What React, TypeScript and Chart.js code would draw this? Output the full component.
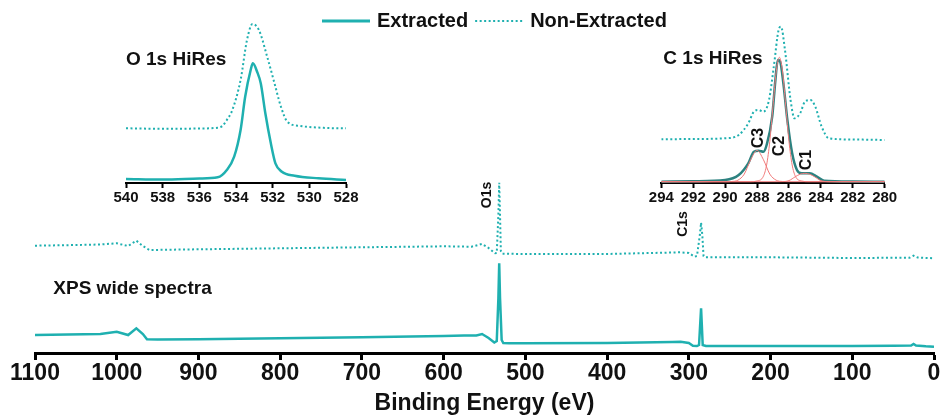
import React, { useEffect, useRef } from "react";
import { Chart, registerables } from "chart.js";

Chart.register(...registerables);

const FONT = "'Liberation Sans', Arial, Helvetica, sans-serif";
const TEAL = "#1fb0b0";
const DARK_TEAL = "#2d8280";
const PINK = "#f07a7a";
const INK = "#111111";

// ---------- Wide scan (Binding energy, eV / intensity, a.u.) ----------
const wideTicks = [1100, 1000, 900, 800, 700, 600, 500, 400, 300, 200, 100, 0];

const extractedEnergy = [1100, 1060, 1020, 1000, 986, 976, 968, 963, 950, 900, 800, 700, 600, 575, 560, 553, 545, 538, 535, 533, 532, 531, 529, 527, 520, 500, 400, 320, 310, 300, 295, 290, 287.5, 285, 283, 281, 279, 270, 200, 100, 50, 28, 25, 22, 10, 0];
const extractedWide = [18, 18.5, 19, 21.3, 18, 24.7, 19, 13.7, 13.5, 13.7, 14.7, 15.7, 17, 17.5, 17.5, 19, 15, 10.5, 12, 55, 89.7, 55, 13, 10, 9.7, 9.7, 10, 11, 11.3, 10, 7.3, 7, 8, 44.7, 8, 7.5, 7, 7, 7, 7, 7.3, 7.5, 9, 7.5, 6.7, 6.3];

const nonExtractedEnergy = [1100, 1050, 1020, 1000, 986, 976, 968, 960, 900, 800, 700, 600, 566, 553, 545, 537, 535, 533, 532, 531, 530, 528, 500, 400, 310, 300, 293, 290, 286.5, 285, 283.5, 282, 280, 200, 100, 30, 25, 20, 0];
const nonExtractedWide = [107.3, 108, 108.5, 109.7, 107, 112.3, 107, 103, 103.7, 104.7, 105.7, 106.7, 106.3, 109, 105, 99.7, 100, 138, 170.3, 138, 102, 99.3, 99, 99, 100.7, 100, 96.3, 97, 118, 130.3, 118, 97, 95.7, 95.7, 95, 95.3, 97.3, 95.5, 94.7];

// ---------- O 1s high resolution ----------
const o1sExtractedEnergy = [540, 538, 536, 535, 534.5, 534.1, 533.75, 533.5, 533.2, 533.08, 532.85, 532.65, 532.4, 532.1, 531.85, 531.5, 530.8, 529.5, 528];
const o1sExtracted = [4, 3.5, 4.5, 5.7, 13, 26.3, 53, 86.3, 113, 119.7, 111.3, 99.7, 69.7, 39.7, 19.7, 11.3, 7.3, 4.7, 3];
const o1sNonExtractedEnergy = [540, 538, 536, 535, 534.75, 534.5, 534.2, 533.75, 533.4, 533.1, 532.75, 532.3, 531.9, 531.55, 531.2, 530.5, 529, 528];
const o1sNonExtracted = [54.7, 54.2, 54.5, 55.3, 57, 63, 73, 103, 143, 159, 153, 126.3, 99.7, 76.3, 61.3, 57, 55, 54.7];

// ---------- C 1s high resolution ----------
const c1sExtractedEnergy = [294, 292, 290, 289.15, 288.55, 288.2, 287.9, 287.6, 287.4, 287.05, 286.85, 286.7, 286.55, 286.35, 286.1, 285.8, 285.5, 285.2, 284.7, 284.25, 283.8, 282, 280];
const c1sExtracted = [1.3, 1.7, 3, 8, 19.7, 31.3, 32.3, 31.3, 38, 66.3, 103, 123, 121.3, 99.7, 63, 29.7, 13, 9.7, 9.7, 6.3, 2.3, 1.5, 1.3];
const c1sNonExtractedEnergy = [294, 292, 290, 289.15, 288.55, 288.2, 287.9, 287.6, 287.25, 286.95, 286.65, 286.5, 286.25, 285.9, 285.65, 285.3, 285.0, 284.65, 284.35, 283.95, 283.5, 282, 280];
const c1sNonExtracted = [43.7, 44, 44.7, 48, 59.7, 71.3, 73, 71.3, 83, 116.3, 153, 156.3, 133, 83, 64.7, 69.7, 81.3, 83, 76.3, 56.3, 44.7, 43.5, 43];

const c3Energy = [294, 290, 289.6, 289.2, 288.8, 288.4, 288.0, 287.6, 287.2, 286.8, 286.4, 286, 280];
const c3Values = [1.3, 1.3, 1.5, 2.8, 8.9, 23.3, 32.6, 23.3, 8.9, 2.8, 1.5, 1.3, 1.3];
const c2Energy = [294, 288.4, 288.0, 287.6, 287.4, 287.2, 287.0, 286.8, 286.6, 286.4, 286.2, 286.0, 285.8, 285.6, 285.2, 284.8, 280];
const c2Values = [1.3, 1.3, 2.0, 6.8, 18.1, 41.7, 76.8, 111.1, 125.7, 111.1, 76.8, 41.7, 18.1, 6.8, 2.0, 1.3, 1.3];
const c1Energy = [294, 286.5, 286.0, 285.6, 285.3, 285.0, 284.7, 284.4, 284.0, 283.5, 280];
const c1Values = [1.3, 1.3, 2.4, 6.3, 8.8, 9.7, 8.8, 6.3, 2.4, 1.4, 1.3];

const seriesNames = ["Extracted", "Non-Extracted"];

type Note = { text: string; x: number; y: number; size: number; rotate?: number; align?: CanvasTextAlign };

const wideNotes: Note[] = [
  { text: "XPS wide spectra", x: 1077.6, y: 64, size: 19, align: "left" },
  { text: "O1s", x: 546.8, y: 158, size: 14, rotate: -90 },
  { text: "C1s", x: 307.5, y: 129, size: 14, rotate: -90 },
];
const o1sNotes: Note[] = [{ text: "O 1s HiRes", x: 540, y: 123, size: 19, align: "left" }];
const c1sNotes: Note[] = [
  { text: "C 1s HiRes", x: 293.87, y: 124, size: 19, align: "left" },
  { text: "C3", x: 287.9, y: 45, size: 16, rotate: -90 },
  { text: "C2", x: 286.56, y: 37, size: 16, rotate: -90 },
  { text: "C1", x: 284.87, y: 23, size: 16, rotate: -90 },
];

const pts = (xs: number[], ys: number[]) => xs.map((x, i) => ({ x, y: ys[i] }));

function notesPlugin(items: Note[]) {
  return {
    id: "notes",
    afterDatasetsDraw(chart: any) {
      const { ctx, scales } = chart;
      items.forEach((it) => {
        const px = scales.x.getPixelForValue(it.x);
        const py = scales.y.getPixelForValue(it.y);
        ctx.save();
        ctx.translate(px, py);
        if (it.rotate) ctx.rotate((it.rotate * Math.PI) / 180);
        ctx.font = `bold ${it.size}px ${FONT}`;
        ctx.fillStyle = INK;
        ctx.textAlign = it.align || "center";
        ctx.textBaseline = "middle";
        ctx.fillText(it.text, 0, 0);
        ctx.restore();
      });
    },
  };
}

const legendPlugin = {
  id: "lineLegend",
  afterDraw(chart: any) {
    const ctx = chart.ctx;
    ctx.save();
    ctx.font = `bold 20px ${FONT}`;
    ctx.textBaseline = "middle";
    ctx.textAlign = "left";
    let x = 322;
    const y = 21;
    chart.data.datasets.forEach((ds: any) => {
      ctx.strokeStyle = ds.borderColor;
      ctx.lineWidth = ds.borderDash && ds.borderDash.length ? 2 : 3;
      ctx.setLineDash(ds.borderDash || []);
      ctx.beginPath();
      ctx.moveTo(x, y);
      ctx.lineTo(x + 48, y);
      ctx.stroke();
      ctx.setLineDash([]);
      x += 48 + 7;
      ctx.fillStyle = INK;
      ctx.fillText(ds.label, x, y);
      x += ctx.measureText(ds.label).width + 7;
    });
    ctx.restore();
  },
};

function insetX(min: number, max: number) {
  return {
    type: "linear" as const,
    min,
    max,
    reverse: true,
    grid: { drawOnChartArea: false, drawTicks: true, tickLength: 5, tickWidth: 2, tickColor: "#000" },
    border: { display: true, color: "#000", width: 2 },
    ticks: {
      stepSize: 2,
      autoSkip: false,
      maxRotation: 0,
      minRotation: 0,
      padding: 2.5,
      color: INK,
      font: { family: FONT, size: 15, weight: "bold" as const, lineHeight: 1 },
      callback: (v: any) => String(v),
    },
  };
}

export default function App() {
  const mainRef = useRef<HTMLCanvasElement>(null);
  const oRef = useRef<HTMLCanvasElement>(null);
  const cRef = useRef<HTMLCanvasElement>(null);

  useEffect(() => {
    const charts: Chart[] = [];

    charts.push(
      new Chart(mainRef.current!, {
        type: "line",
        data: {
          datasets: [
            {
              label: seriesNames[0],
              data: pts(extractedEnergy, extractedWide),
              borderColor: TEAL,
              borderWidth: 2.5,
              pointRadius: 0,
              tension: 0,
            },
            {
              label: seriesNames[1],
              data: pts(nonExtractedEnergy, nonExtractedWide),
              borderColor: TEAL,
              borderWidth: 2,
              borderDash: [2, 2.5],
              pointRadius: 0,
              tension: 0,
            },
          ],
        },
        options: {
          animation: false,
          responsive: false,
          events: [],
          layout: { padding: { left: 35, right: 10, top: 40, bottom: 0 } },
          plugins: { legend: { display: false }, tooltip: { enabled: false } },
          scales: {
            x: {
              type: "linear",
              min: 0,
              max: 1100,
              reverse: true,
              afterBuildTicks: (axis: any) => {
                axis.ticks = wideTicks.map((v) => ({ value: v }));
              },
              grid: { drawOnChartArea: false, drawTicks: true, tickLength: 7, tickWidth: 3, tickColor: "#000" },
              border: { display: true, color: "#000", width: 3 },
              ticks: {
                autoSkip: false,
                maxRotation: 0,
                minRotation: 0,
                padding: 2,
                color: INK,
                font: { family: FONT, size: 23, weight: "bold", lineHeight: 1 },
                callback: (v: any) => String(v),
              },
              title: {
                display: true,
                text: "Binding Energy (eV)",
                color: INK,
                font: { family: FONT, size: 23, weight: "bold", lineHeight: 1 },
                padding: { top: 5.5, bottom: 0.5 },
              },
            },
            y: { type: "linear", display: false, min: 0, max: 313 },
          },
        },
        plugins: [notesPlugin(wideNotes), legendPlugin],
      } as any)
    );

    charts.push(
      new Chart(oRef.current!, {
        type: "line",
        data: {
          datasets: [
            {
              label: seriesNames[0],
              data: pts(o1sExtractedEnergy, o1sExtracted),
              borderColor: TEAL,
              borderWidth: 2.5,
              pointRadius: 0,
              cubicInterpolationMode: "monotone",
            },
            {
              label: seriesNames[1],
              data: pts(o1sNonExtractedEnergy, o1sNonExtracted),
              borderColor: TEAL,
              borderWidth: 2,
              borderDash: [2, 2.5],
              pointRadius: 0,
              cubicInterpolationMode: "monotone",
            },
          ],
        },
        options: {
          animation: false,
          responsive: false,
          events: [],
          layout: { padding: { left: 26, right: 34, top: 10, bottom: 0 } },
          plugins: { legend: { display: false }, tooltip: { enabled: false } },
          scales: {
            x: insetX(528, 540),
            y: { type: "linear", display: false, min: 0, max: 173 },
          },
        },
        plugins: [notesPlugin(o1sNotes)],
      } as any)
    );

    const comp = (label: string, xs: number[], ys: number[]) => ({
      label,
      data: pts(xs, ys),
      borderColor: PINK,
      borderWidth: 1,
      pointRadius: 0,
      cubicInterpolationMode: "monotone",
      order: 2,
    });

    charts.push(
      new Chart(cRef.current!, {
        type: "line",
        data: {
          datasets: [
            {
              label: seriesNames[0],
              data: pts(c1sExtractedEnergy, c1sExtracted),
              borderColor: DARK_TEAL,
              borderWidth: 2.5,
              pointRadius: 0,
              cubicInterpolationMode: "monotone",
              order: 3,
            },
            {
              label: seriesNames[1],
              data: pts(c1sNonExtractedEnergy, c1sNonExtracted),
              borderColor: TEAL,
              borderWidth: 2,
              borderDash: [2, 2.5],
              pointRadius: 0,
              cubicInterpolationMode: "monotone",
              order: 1,
            },
            comp("C3", c3Energy, c3Values),
            comp("C2", c2Energy, c2Values),
            comp("C1", c1Energy, c1Values),
          ],
        },
        options: {
          animation: false,
          responsive: false,
          events: [],
          layout: { padding: { left: 31.3, right: 35.3, top: 10, bottom: 0 } },
          plugins: { legend: { display: false }, tooltip: { enabled: false } },
          scales: {
            x: insetX(280, 294),
            y: { type: "linear", display: false, min: 0, max: 173 },
          },
        },
        plugins: [notesPlugin(c1sNotes)],
      } as any)
    );

    return () => charts.forEach((c) => c.destroy());
  }, []);

  return (
    <div style={{ position: "absolute", left: 0, top: 0, width: 944, height: 416, background: "#fff" }}>
      <canvas ref={mainRef} width={944} height={416} style={{ position: "absolute", left: 0, top: 0 }} />
      <canvas ref={oRef} width={280} height={208} style={{ position: "absolute", left: 100, top: 0 }} />
      <canvas ref={cRef} width={290} height={208} style={{ position: "absolute", left: 630, top: 0 }} />
    </div>
  );
}
